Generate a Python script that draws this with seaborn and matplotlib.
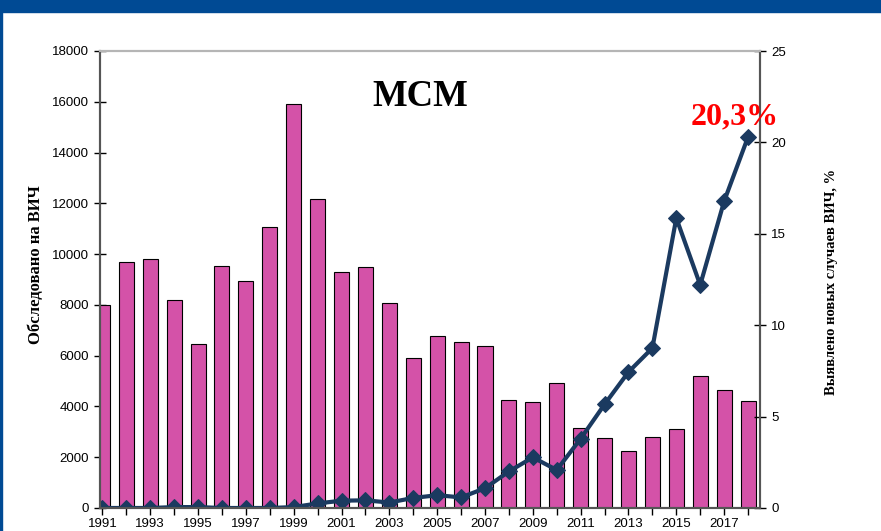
import numpy as np
import pandas as pd
import matplotlib
matplotlib.use("Agg")
import matplotlib.pyplot as plt
from matplotlib.patches import Rectangle
import seaborn as sns

# data
years = list(range(1991, 2019))
tested = [8000, 9690, 9800, 8200, 6450, 9530, 8940, 11070, 15900, 12180,
          9300, 9490, 8070, 5910, 6770, 6540, 6380, 4250, 4170, 4920,
          3150, 2760, 2250, 2800, 3110, 5200, 4650, 4210]
hiv_pct = [0.0, 0.0, 0.0, 0.05, 0.05, 0.0, 0.0, 0.0, 0.05, 0.25,
           0.4, 0.42, 0.3, 0.55, 0.7, 0.58, 1.08, 2.0, 2.77, 2.08,
           3.79, 5.67, 7.44, 8.75, 15.86, 12.2, 16.78, 20.3]
year_labels = [str(y) if y % 2 == 1 else "" for y in years]

df = pd.DataFrame({"year": years, "tested": tested, "pct": hiv_pct})

sns.set_style("ticks")
plt.rcParams["font.family"] = ["Liberation Sans", "DejaVu Sans"]

bar_color = "#d452a8"
line_color = "#1b3a60"
axis_color = "#555555"

fig = plt.figure(figsize=(8.81, 5.31), dpi=100)
ax = fig.add_axes([100 / 881, 1 - 508 / 531, 660 / 881, 457 / 531])

sns.barplot(data=df, x="year", y="tested", native_scale=True, color=bar_color,
            saturation=1, edgecolor="black", linewidth=0.8, width=0.63, ax=ax)
ax.set_ylim(0, 18000)
ax.set_yticks(range(0, 18001, 2000))
ax.set_xlim(1990.9, 2018.5)
ax.set_xticks(years)
ax.set_xticklabels(year_labels)
ax.set_xlabel("")
ax.set_ylabel("Обследовано на ВИЧ", family=["Liberation Serif"], fontweight="bold",
              fontsize=12, color="black")
ax.yaxis.set_label_coords(-0.085, 0.532)

ax2 = ax.twinx()
sns.lineplot(data=df, x="year", y="pct", ax=ax2, color=line_color, linewidth=3,
             marker="D", markersize=8, markeredgecolor=line_color)
ax2.set_ylim(0, 25)
ax2.set_yticks(range(0, 26, 5))
ax2.set_xlim(1990.9, 2018.5)
ax2.set_xlabel("")
ax2.set_ylabel("Выявлено новых случаев ВИЧ, %", family=["Liberation Serif"],
               fontweight="bold", fontsize=10.5, color="black")
ax2.yaxis.set_label_coords(1.0985, 0.4945)

for a in (ax, ax2):
    for s in ("left", "right", "bottom"):
        a.spines[s].set_color(axis_color)
        a.spines[s].set_linewidth(1.5)
        a.spines[s].set_visible(True)
    a.spines["top"].set_visible(True)
    a.spines["top"].set_color("#b5b5b5")
    a.spines["top"].set_linewidth(1.5)
    a.tick_params(axis="y", direction="inout", length=8, width=1, colors="black",
                  labelsize=9.5, pad=4)
    a.tick_params(axis="x", direction="out", length=5, width=1, colors="black",
                  labelsize=9.5, pad=2)

fig.text(0.4765, 0.818, "МСМ", ha="center", va="center", color="black",
         family=["Liberation Serif"], fontweight="bold", fontsize=26.5)
fig.text(0.834, 0.78, "20,3%", ha="center", va="center",
         family=["Liberation Serif"], fontweight="bold", fontsize=23, color="red")

# blue header band and left border
fig.patches.append(Rectangle((0, 1 - 12 / 531), 1, 12 / 531, transform=fig.transFigure,
                             color="#004a94", zorder=10))
fig.patches.append(Rectangle((0, 0), 2 / 881, 1, transform=fig.transFigure,
                             color="#004a94", zorder=10))

fig.savefig("out.png", dpi=100)
